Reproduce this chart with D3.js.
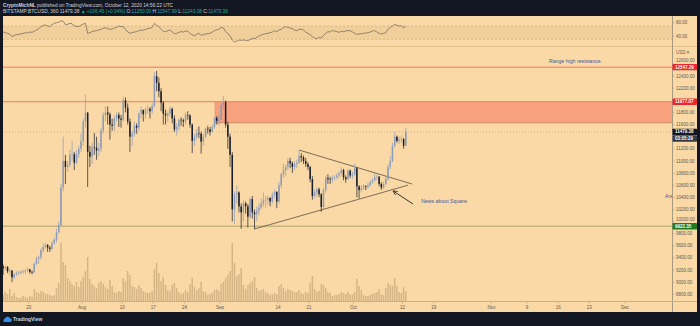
<!DOCTYPE html>
<html>
<head>
<meta charset="utf-8">
<script src="https://cdn.jsdelivr.net/npm/d3@7"></script>
<style>
  html, body { margin: 0; padding: 0; background: #131722; }
  svg { display: block; font-family: "Liberation Sans", Arial, sans-serif; }
</style>
</head>
<body>
<svg id="chart" width="700" height="326"></svg>
<script>
// BTCUSD (Bitstamp), 12h candles from 14 Jul 2020 00:00 UTC
const startTime = Date.UTC(2020, 6, 14);
const firstOpen = 9260;

const closes = [
  9230,9250, 9180,9190, 9080,9130, 9150,9155, 9170,9175, 9190,9210, 9170,9160,
  9300,9390, 9410,9530, 9580,9610, 9570,9550, 9640,9700, 9820,9940,
  10560,11000, 10900,10940, 11100,11110, 10970,11110, 11200,11330,
  11650,11800, 11150,11070, 11230,11220, 11170,11200, 11500,11750, 11800,11770,
  11600,11580, 11700,11760, 11700,11680, 12000,11880, 11650,11400, 11450,11580,
  11550,11780, 11840,11770, 11850,11860, 11820,11910, 12400,12290, 12150,11960,
  11780,11750, 11780,11860, 11700,11520, 11560,11680, 11670,11650, 11760,11750,
  11600,11330, 11400,11460, 11450,11320, 11400,11530, 11520,11480, 11560,11710,
  11660,11680, 11920,11970, 11600,11400, 11100,10200, 10450,10480, 10250,10150,
  10300,10250, 10080,10370, 10150,10120, 10180,10230, 10300,10350, 10360,10390,
  10330,10440, 10490,10330, 10600,10780, 10850,10900, 11000,10960, 10900,10950,
  10970,11080, 11060,11000, 10950,10900, 10700,10420, 10480,10530, 10450,10240,
  10520,10720, 10700,10690, 10720,10730, 10760,10800, 10850,10730, 10700,10840,
  10760,10780, 10880,10580, 10520,10550, 10580,10570, 10600,10650, 10680,10730,
  10740,10620, 10560,10620, 10700,10900, 11000,11250, 11400,11330, 11350,11360,
  11250,11479.38
];
const highs = [
  9290,9275, 9265,9220, 9200,9150, 9180,9190, 9190,9200, 9210,9240, 9220,9190,
  9330,9420, 9440,9560, 9640,9650, 9630,9600, 9680,9730, 9880,10000,
  10620,11400, 11100,11000, 11180,11330, 11150,11180, 11250,11450,
  11700,12090, 11800,11250, 11300,11460, 11400,11300, 11550,11800, 11900,11900,
  11800,11700, 11750,11800, 11800,11760, 12060,12050, 11950,11700, 11500,11650,
  11620,11800, 11900,11850, 11880,11920, 11890,11950, 12470,12486, 12380,12200,
  11990,11850, 11820,11900, 11880,11750, 11620,11700, 11720,11700, 11800,11820,
  11770,11620, 11450,11530, 11570,11480, 11450,11550, 11580,11560, 11600,11720,
  11740,11760, 11950,12070, 12000,11650, 11450,11150, 10500,10600, 10500,10300,
  10350,10330, 10290,10400, 10420,10200, 10250,10300, 10380,10480, 10420,10430,
  10400,10480, 10530,10500, 10650,10800, 10950,10940, 11050,11050, 10990,11000,
  11020,11180, 11130,11090, 11050,10980, 10920,10750, 10530,10560, 10560,10470,
  10560,10760, 10780,10740, 10760,10770, 10800,10830, 10900,10870, 10760,10870,
  10860,10820, 10950,10900, 10600,10600, 10620,10600, 10640,10680, 10720,10800,
  10780,10750, 10650,10660, 10740,10950, 11080,11300, 11480,11420, 11400,11420,
  11380,11547.99
];
const lows = [
  9120,9195, 9150,9110, 9000,9050, 9100,9120, 9130,9140, 9140,9170, 9140,9130,
  9150,9280, 9300,9370, 9480,9550, 9500,9500, 9530,9620, 9650,9800,
  9920,10500, 10620,10820, 10900,11000, 10850,10950, 11050,11150,
  11250,11550, 10570,10900, 10950,11100, 11020,11080, 11150,11450, 11650,11600,
  11350,11500, 11500,11650, 11560,11550, 11650,11800, 11600,11150, 11250,11400,
  11450,11500, 11700,11650, 11700,11780, 11700,11780, 11880,12150, 12050,11820,
  11600,11600, 11640,11740, 11620,11480, 11420,11500, 11580,11560, 11600,11680,
  11550,11130, 11250,11350, 11380,11120, 11250,11380, 11450,11420, 11470,11530,
  11600,11580, 11680,11850, 11550,11200, 10900,10000, 9960,10300, 10150,9880,
  10000,10130, 9900,10050, 10050,9880, 10000,10100, 10200,10250, 10220,10280,
  10250,10300, 10380,10220, 10300,10550, 10720,10750, 10850,10880, 10800,10850,
  10880,10950, 10980,10950, 10900,10850, 10650,10360, 10380,10420, 10400,10160,
  10200,10480, 10620,10620, 10640,10680, 10700,10720, 10760,10680, 10640,10680,
  10720,10700, 10750,10400, 10380,10480, 10520,10520, 10540,10580, 10620,10660,
  10680,10580, 10520,10540, 10600,10680, 10860,10980, 11220,11300, 11280,11300,
  11200,11243.08
];
// traded volume per candle, BTC
const volumes = [
  600,900, 700,1200, 500,800, 400,300, 300,500, 400,300, 500,400,
  1200,900, 800,1000, 900,700, 700,600, 500,600, 1300,1800,
  5800,3900, 3600,2300, 2000,1700, 1500,1900, 1400,2000,
  2400,3000, 4400,2200, 1700,1500, 1300,1800, 2000,1700, 1400,1200,
  2100,1500, 900,800, 1000,900, 2300,2000, 3000,2600, 1500,1400,
  1200,1600, 1300,1000, 900,800, 800,1000, 3200,3800, 2800,2000,
  2400,1600, 1100,1000, 1600,1800, 1300,900, 700,800, 1100,900,
  1700,2300, 1400,1100, 1300,1900, 1000,900, 600,700, 800,1100,
  1200,1000, 1700,1900, 2300,2600, 3000,5800, 3800,2500, 2700,3300,
  1600,1200, 1600,1800, 2000,2400, 1300,1000, 1100,1200, 900,800,
  600,700, 800,700, 1500,1700, 1300,1000, 1200,1100, 1000,900,
  900,1100, 800,700, 900,800, 1800,2500, 1200,900, 1000,1700,
  1600,1300, 900,800, 500,600, 600,700, 900,800, 700,900,
  600,700, 900,2200, 1500,1100, 600,500, 500,600, 700,800,
  900,1200, 700,600, 1300,1800, 1600,1500, 2300,1500, 900,800,
  1400,1000
];
// RSI (14) per candle
const rsi = [
  52,50, 48,46, 38,42, 44,45, 46,48, 50,49, 52,51,
  54,58, 62,68, 72,73, 70,68, 74,78, 80,81,
  86,84, 74,75, 78,77, 70,69, 68,72,
  76,78, 48,50, 53,55, 56,58, 60,63, 65,62,
  60,61, 64,66, 70,68, 68,60, 52,48, 50,52,
  53,56, 58,57, 60,62, 63,66, 78,72, 68,60,
  54,53, 56,58, 52,47, 48,51, 53,52, 55,54,
  48,43, 41,45, 48,42, 44,46, 47,48, 52,56,
  58,60, 66,64, 53,48, 40,28, 22,25, 28,27,
  28,27, 26,29, 33,32, 36,40, 43,45, 47,48,
  50,52, 56,53, 58,60, 65,68, 66,64, 62,58,
  56,60, 60,58, 52,48, 44,38, 34,32, 36,34,
  42,48, 53,52, 56,55, 53,51, 54,53, 55,56,
  56,52, 48,45, 46,47, 48,49, 50,52, 55,56,
  52,48, 46,48, 50,60, 66,70, 75,72, 70,71,
  64,70
];

const priceTicks = [8800, 9000, 9200, 9400, 9600, 9800, 10000, 10200, 10400, 10600,
  10800, 11000, 11200, 11400, 11600, 11800, 12000, 12200, 12400, 12600];
const rsiTicks = [40, 80];
const timeTickDates = ["2020-07-20", "2020-08-01", "2020-08-10", "2020-08-17", "2020-08-24",
  "2020-09-01", "2020-09-14", "2020-09-21", "2020-10-01", "2020-10-12", "2020-10-19",
  "2020-11-01", "2020-11-09", "2020-11-16", "2020-11-23", "2020-12-01"];
const timeTickLabels = ["20", "Aug", "10", "17", "24", "Sep", "14", "21", "Oct", "12", "19",
  "Nov", "9", "16", "23", "Dec"];

// drawn levels
const resistanceLevels = [12547.29, 11977.07];
const supportLevel = 9922.35;
const supplyZone = { from: "2020-08-30T21:00Z", top: 11977.07, bottom: 11630 };
const lastPrice = 11479.38;
const countdown = "03:05:29";

// triangle trendlines
const trendLines = [
  [["2020-09-18T18:00Z", 11180], ["2020-10-14T03:00Z", 10620]],
  [["2020-09-08T15:00Z", 9875], ["2020-10-13T06:00Z", 10600]]
];
const newsArrow = [["2020-10-14T09:00Z", 10290], ["2020-10-09T21:00Z", 10505]];
const notes = [
  { t: "2020-11-13T22:00Z", p: 12620, text: "Range high resistance." },
  { t: "2020-10-16T05:00Z", p: 10300, text: "News about Square." },
  { t: "2020-12-10T00:00Z", p: 10390, text: "Area" }
];

// ---- layout ----
const W = 700, H = 326;
const L = 3, R = 672, AX = 697;
const rsiTop = 16, rsiBot = 46, mainTop = 47, mainBot = 301, timeBot = 312;
const BG = "#fad9a6", DARK = "#131722";
const UP = "#8d9cb8", DOWN = "#1b1f2b";

const x = d3.scaleUtc()
  .domain([new Date(Date.UTC(2020, 6, 14)), new Date(Date.UTC(2020, 11, 11, 12))])
  .range([2, 671.7]);
const y = d3.scaleLinear().domain([8689, 12880]).range([mainBot, mainTop]);
const ry = d3.scaleLinear().domain([10, 100]).range([rsiBot, rsiTop]);
const vy = d3.scaleLinear().domain([0, 8000]).range([mainBot, mainBot - 80]);

const HOUR = 3600e3;
const data = closes.map((c, i) => ({
  t: new Date(startTime + i * 12 * HOUR + 6 * HOUR),
  o: i ? closes[i - 1] : firstOpen,
  h: highs[i], l: lows[i], c, v: volumes[i], r: rsi[i]
}));

const svg = d3.select("#chart");
const defs = svg.append("defs");
defs.append("clipPath").attr("id", "mainClip")
  .append("rect").attr("x", L).attr("y", mainTop).attr("width", R - L).attr("height", mainBot - mainTop);
defs.append("clipPath").attr("id", "rsiClip")
  .append("rect").attr("x", L).attr("y", rsiTop).attr("width", R - L).attr("height", rsiBot - rsiTop);
defs.append("marker").attr("id", "arrowHead")
  .attr("viewBox", "0 0 10 10").attr("refX", 9).attr("refY", 5)
  .attr("markerWidth", 6).attr("markerHeight", 6).attr("orient", "auto")
  .append("path").attr("d", "M1,1 L9,5 L1,9").attr("fill", "none")
  .attr("stroke", "#222").attr("stroke-width", 1.3);

svg.append("rect").attr("width", W).attr("height", H).attr("fill", DARK);
svg.append("rect").attr("x", L).attr("y", rsiTop).attr("width", AX - L).attr("height", timeBot - rsiTop).attr("fill", BG);

// ---- RSI pane ----
svg.append("rect").attr("x", L).attr("y", ry(70)).attr("width", R - L).attr("height", ry(30) - ry(70))
  .attr("fill", "#b98a4a").attr("opacity", 0.13);
[70, 30].forEach(v => svg.append("line")
  .attr("x1", L).attr("x2", R).attr("y1", ry(v)).attr("y2", ry(v))
  .attr("stroke", "#c9a978").attr("stroke-width", 0.6).attr("stroke-dasharray", "2,2"));
svg.append("g").attr("clip-path", "url(#rsiClip)")
  .append("path").datum(data)
  .attr("d", d3.line().x(d => x(d.t)).y(d => ry(d.r)))
  .attr("fill", "none").attr("stroke", "#7a6e5f").attr("stroke-width", 0.8);
svg.append("line").attr("x1", L).attr("x2", AX).attr("y1", rsiBot + 0.5).attr("y2", rsiBot + 0.5)
  .attr("stroke", "#e2c08c").attr("stroke-width", 1);

// ---- main pane ----
const plot = svg.append("g").attr("clip-path", "url(#mainClip)");

plot.selectAll("rect.vol").data(data).join("rect").attr("class", "vol")
  .attr("x", d => x(d.t) - 0.75).attr("width", 1.5)
  .attr("y", d => vy(d.v)).attr("height", d => vy(0) - vy(d.v))
  .attr("fill", "#d6b585");

const zoneX = x(new Date(supplyZone.from));
plot.append("rect")
  .attr("x", zoneX).attr("y", y(supplyZone.top))
  .attr("width", R - zoneX)
  .attr("height", y(supplyZone.bottom) - y(supplyZone.top))
  .attr("fill", "#f8a17d");
plot.append("line")
  .attr("x1", zoneX).attr("x2", R)
  .attr("y1", y(supplyZone.bottom)).attr("y2", y(supplyZone.bottom))
  .attr("stroke", "#d08a68").attr("stroke-width", 1);
plot.append("line")
  .attr("x1", zoneX).attr("x2", zoneX)
  .attr("y1", y(supplyZone.top)).attr("y2", y(supplyZone.bottom))
  .attr("stroke", "#ee8a6c").attr("stroke-width", 0.6);

resistanceLevels.forEach(v => plot.append("line")
  .attr("x1", L).attr("x2", R).attr("y1", y(v)).attr("y2", y(v))
  .attr("stroke", "#f07a60").attr("stroke-width", 1));
plot.append("line").attr("x1", L).attr("x2", R)
  .attr("y1", y(supportLevel)).attr("y2", y(supportLevel))
  .attr("stroke", "#c6b47e").attr("stroke-width", 1.3);

plot.append("line").attr("x1", L).attr("x2", R)
  .attr("y1", y(lastPrice)).attr("y2", y(lastPrice))
  .attr("stroke", "#b8a084").attr("stroke-width", 0.7).attr("stroke-dasharray", "1,2");

trendLines.forEach(seg => plot.append("line")
  .attr("x1", x(new Date(seg[0][0]))).attr("y1", y(seg[0][1]))
  .attr("x2", x(new Date(seg[1][0]))).attr("y2", y(seg[1][1]))
  .attr("stroke", "#5c5043").attr("stroke-width", 0.8));

// candles
const cg = plot.append("g");
cg.selectAll("line.wick").data(data).join("line").attr("class", "wick")
  .attr("x1", d => x(d.t)).attr("x2", d => x(d.t))
  .attr("y1", d => y(d.h)).attr("y2", d => y(d.l))
  .attr("stroke", d => d.c >= d.o ? UP : DOWN).attr("stroke-width", 0.7);
cg.selectAll("rect.body").data(data).join("rect").attr("class", "body")
  .attr("x", d => x(d.t) - 0.75).attr("width", 1.5)
  .attr("y", d => y(Math.max(d.o, d.c)))
  .attr("height", d => Math.max(0.6, Math.abs(y(d.o) - y(d.c))))
  .attr("fill", d => d.c >= d.o ? UP : DOWN);

// notes
plot.append("line")
  .attr("x1", x(new Date(newsArrow[0][0]))).attr("y1", y(newsArrow[0][1]))
  .attr("x2", x(new Date(newsArrow[1][0]))).attr("y2", y(newsArrow[1][1]))
  .attr("stroke", "#222").attr("stroke-width", 0.9).attr("marker-end", "url(#arrowHead)");
plot.selectAll("text.note").data(notes).join("text").attr("class", "note")
  .attr("x", d => x(new Date(d.t))).attr("y", d => y(d.p))
  .attr("font-size", 5.2).attr("fill", "#3e5c9c").text(d => d.text);

// ---- axes ----
svg.append("line").attr("x1", R + 0.5).attr("x2", R + 0.5).attr("y1", rsiTop).attr("y2", timeBot)
  .attr("stroke", "#a89a80").attr("stroke-width", 1);
svg.append("line").attr("x1", L).attr("x2", AX).attr("y1", mainBot + 0.5).attr("y2", mainBot + 0.5)
  .attr("stroke", "#c8b08a").attr("stroke-width", 1);

const axisText = { "font-size": 4.5, fill: "#5f5a52" };
function styled(sel, s) { Object.entries(s).forEach(([k, v]) => sel.attr(k, v)); return sel; }

// positions of the price tags, so the scale labels can make room for them
const TAG_H = 6.4;
const tagYs = [...resistanceLevels.map(v => y(v)), y(lastPrice), y(lastPrice) + 6.6, y(supportLevel)];

const pt = svg.append("g");
priceTicks.forEach(v => {
  const ty = y(v);
  pt.append("line").attr("x1", R).attr("x2", R + 2.5).attr("y1", ty).attr("y2", ty)
    .attr("stroke", "#a89a80").attr("stroke-width", 0.6);
  // nearest tag: hide the label when it sits under it, nudge it when it only touches it
  let ly = ty, hidden = false;
  tagYs.forEach(g => {
    const dist = ly - g;
    if (Math.abs(dist) < 2.5) hidden = true;
    else if (Math.abs(dist) < TAG_H) ly = g + Math.sign(dist) * TAG_H;
  });
  if (hidden) return;
  styled(pt.append("text"), axisText).attr("x", R + 4).attr("y", ly).attr("dy", "0.35em").text(v.toFixed(2));
});
styled(pt.append("text"), axisText).attr("x", R + 4).attr("y", 52).attr("dy", "0.35em").text("USD ≡");
rsiTicks.forEach(v => {
  pt.append("line").attr("x1", R).attr("x2", R + 2.5).attr("y1", ry(v)).attr("y2", ry(v))
    .attr("stroke", "#a89a80").attr("stroke-width", 0.6);
  styled(pt.append("text"), axisText).attr("x", R + 4).attr("y", ry(v)).attr("dy", "0.35em").text(v.toFixed(2));
});

const tt = svg.append("g");
timeTickDates.forEach((s, i) => {
  const xx = x(new Date(s + "T00:00Z"));
  tt.append("line").attr("x1", xx).attr("x2", xx).attr("y1", mainBot + 1).attr("y2", mainBot + 2.5)
    .attr("stroke", "#a89a80").attr("stroke-width", 0.6);
  styled(tt.append("text"), axisText).attr("x", xx).attr("y", 307).attr("dy", "0.35em")
    .attr("text-anchor", "middle").text(timeTickLabels[i]);
});

// price tags on the scale
function tag(v, fill, label, dy) {
  const yy = y(v) + (dy || 0);
  svg.append("rect").attr("x", R + 0.5).attr("y", yy - TAG_H / 2).attr("width", AX - R - 0.5).attr("height", TAG_H)
    .attr("fill", fill).attr("rx", 0.6);
  svg.append("text").attr("x", R + 3).attr("y", yy).attr("dy", "0.35em")
    .attr("font-size", 4.5).attr("font-weight", "bold").attr("fill", "#fff").text(label);
}
resistanceLevels.forEach(v => tag(v, "#f0262e", v.toFixed(2)));
tag(lastPrice, DARK, lastPrice.toFixed(2));
tag(lastPrice, "#363a45", countdown, 6.6);
tag(supportLevel, "#1e7b22", supportLevel.toFixed(2));

// ---- header & footer ----
const h1 = svg.append("text").attr("x", 3).attr("y", 6.8).attr("font-size", 4.8).attr("fill", "#d1d4dc");
h1.append("tspan").attr("font-weight", "bold").text("CryptoMichNL");
h1.append("tspan").text(" published on TradingView.com, October 12, 2020 14:56:22 UTC");

const h2 = svg.append("text").attr("x", 3).attr("y", 12.8).attr("font-size", 4.8).attr("fill", "#d1d4dc");
const GREEN = "#26a69a";
[["BITSTAMP:BTCUSD, 360  11479.38 ", null], ["▲ +106.45 (+0.94%) ", GREEN],
 ["O:", null], ["11250.00 ", GREEN], ["H:", null], ["11547.99 ", GREEN],
 ["L:", null], ["11243.08 ", GREEN], ["C:", null], ["11479.38", GREEN]]
  .forEach(([s, c]) => { const t = h2.append("tspan").text(s); if (c) t.attr("fill", c); });

const logo = svg.append("g").attr("transform", "translate(3,316)");
logo.append("path")
  .attr("d", "M1,6 A2,2 0 0 1 2,2.6 A2.6,2.6 0 0 1 6.8,2.2 A1.9,1.9 0 0 1 8.6,5 A1,1 0 0 1 8,6 Z")
  .attr("fill", "#2f8ff0");
svg.append("text").attr("x", 13).attr("y", 320.6).attr("font-size", 5).attr("fill", "#d1d4dc")
  .attr("font-weight", "bold").text("TradingView");
</script>
</body>
</html>
